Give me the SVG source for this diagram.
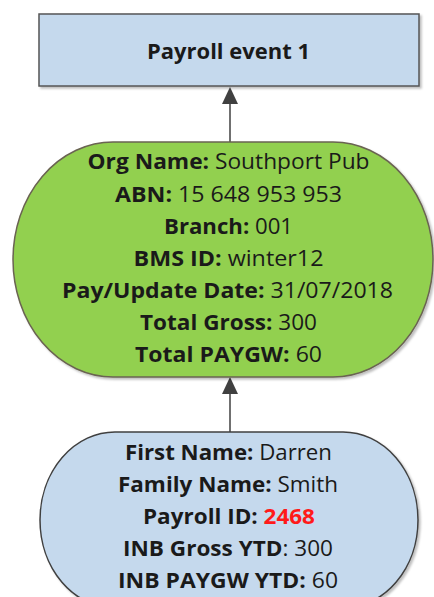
<svg xmlns="http://www.w3.org/2000/svg" width="434" height="597" viewBox="0 0 434 597">
  <style>
    .t { font-family: "Open Sans", "Noto Sans", sans-serif; font-size: 21.5px; fill: #1a1a1a; text-anchor: middle; }
    .b { font-weight: bold; }
    .red { fill: #ff1a1a; font-weight: bold; }
    .conn { stroke: #404040; stroke-width: 1.5; fill: none; }
  </style>
  <defs>
    <filter id="shadow" x="-5%" y="-5%" width="115%" height="115%">
      <feDropShadow dx="2" dy="2" stdDeviation="1.2" flood-color="#000" flood-opacity="0.25"/>
    </filter>
  </defs>

  <!-- Payroll event box -->
  <g id="payroll-event">
    <rect x="39" y="14" width="380" height="72" fill="#c5d9ed" stroke="#555" stroke-width="1.5" filter="url(#shadow)"/>
    <text class="t b" x="228.5" y="58.5" textLength="163" lengthAdjust="spacingAndGlyphs">Payroll event 1</text>
  </g>

  <!-- Connectors with filled arrowheads -->
  <g id="connectors">
    <line class="conn" x1="230" y1="142" x2="230" y2="98"/>
    <path d="M230,87 L222,104 L238,104 Z" fill="#404040"/>
    <line class="conn" x1="230" y1="432" x2="230" y2="388"/>
    <path d="M230,377 L222,394 L238,394 Z" fill="#404040"/>
  </g>

  <!-- Organisation / pay event details -->
  <g id="org-details">
    <rect x="13" y="142" width="420" height="235" rx="100" ry="117.5" fill="#92d050" stroke="#6a6352" stroke-width="1.5" filter="url(#shadow)"/>
    <text class="t" x="228.5" y="169" textLength="282" lengthAdjust="spacingAndGlyphs"><tspan class="b">Org Name:</tspan> Southport Pub</text>
    <text class="t" x="228.5" y="201.5" textLength="227" lengthAdjust="spacingAndGlyphs"><tspan class="b">ABN:</tspan> 15 648 953 953</text>
    <text class="t" x="228.5" y="234" textLength="129" lengthAdjust="spacingAndGlyphs"><tspan class="b">Branch:</tspan> 001</text>
    <text class="t" x="228.5" y="266" textLength="190" lengthAdjust="spacingAndGlyphs"><tspan class="b">BMS ID:</tspan> winter12</text>
    <text class="t" x="227.5" y="298" textLength="331" lengthAdjust="spacingAndGlyphs"><tspan class="b">Pay/Update Date:</tspan> 31/07/2018</text>
    <text class="t" x="228.5" y="330" textLength="177" lengthAdjust="spacingAndGlyphs"><tspan class="b">Total Gross:</tspan> 300</text>
    <text class="t" x="228.5" y="362" textLength="187" lengthAdjust="spacingAndGlyphs"><tspan class="b">Total PAYGW:</tspan> 60</text>
  </g>

  <!-- Employee details -->
  <g id="employee-details">
    <rect x="40" y="432" width="378" height="176" rx="75" ry="88" fill="#c5d9ed" stroke="#404040" stroke-width="1.5" filter="url(#shadow)"/>
    <text class="t" x="228.5" y="460" textLength="207" lengthAdjust="spacingAndGlyphs"><tspan class="b">First Name:</tspan> Darren</text>
    <text class="t" x="228" y="492" textLength="220" lengthAdjust="spacingAndGlyphs"><tspan class="b">Family Name:</tspan> Smith</text>
    <text class="t" x="229" y="524" textLength="172" lengthAdjust="spacingAndGlyphs"><tspan class="b">Payroll ID:</tspan> <tspan class="red">2468</tspan></text>
    <text class="t" x="228" y="556" textLength="210" lengthAdjust="spacingAndGlyphs"><tspan class="b">INB Gross YTD</tspan>: 300</text>
    <text class="t" x="228" y="588" textLength="220" lengthAdjust="spacingAndGlyphs"><tspan class="b">INB PAYGW YTD:</tspan> 60</text>
  </g>
</svg>
